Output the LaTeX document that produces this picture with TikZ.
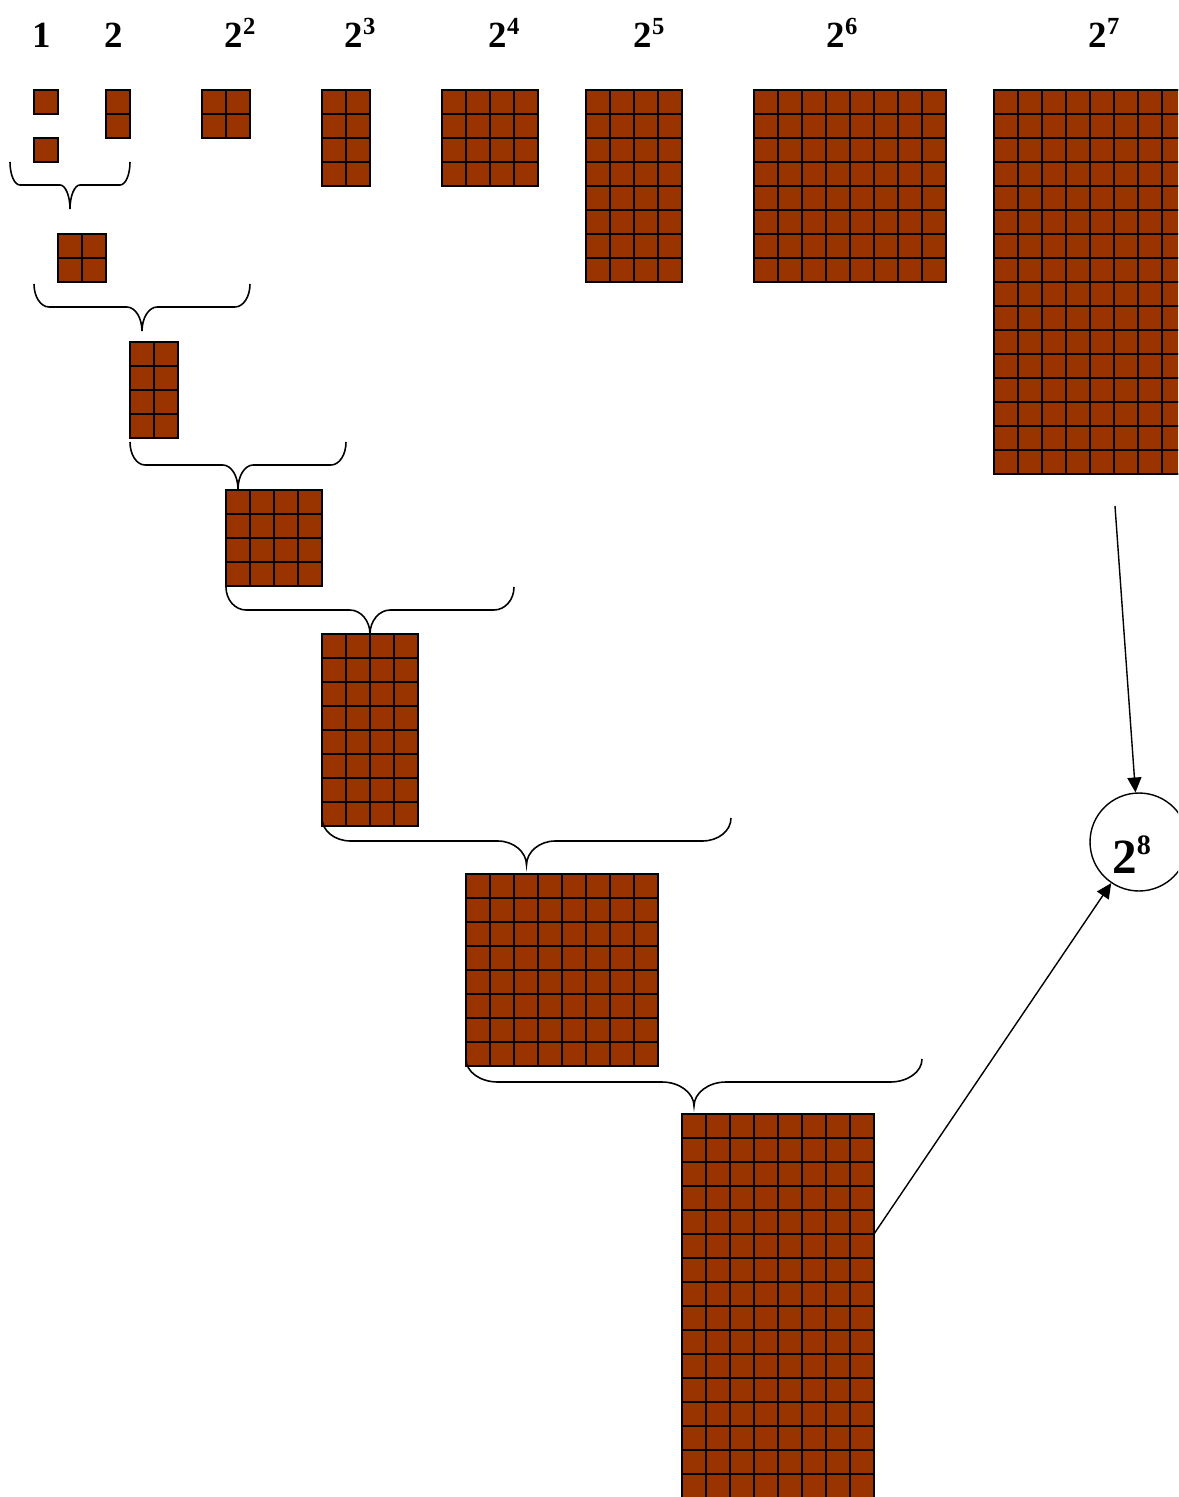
\documentclass[tikz,border=0pt]{standalone}
\usepackage{fontspec}
\setmainfont{Liberation Serif}
\usetikzlibrary{positioning,calc,arrows.meta}
\definecolor{choc}{HTML}{993300}

\newcommand{\cellsz}{0.48cm}
% block of cells: name, x, y, columns, rows
\newcommand{\choco}[5]{%
  \node[slab, minimum width=#4*\cellsz, minimum height=#5*\cellsz] (#1) at (#2,#3) {};
  \draw[cellgrid, shift={(#1.south west)}] (0,0) grid[step=\cellsz] (#4*\cellsz,#5*\cellsz);
}
% brace opening upwards: left x, right x, top y
\newcommand{\brc}[3]{%
  \pgfmathsetmacro{\bmid}{(#1+#2)/2}%
  \pgfmathsetmacro{\brad}{max(10,0.07*(#2-#1))}%
  \draw[brc] (#1,#3) .. controls (#1,#3+13) and (#1+0.45*\brad,#3+23) .. (#1+\brad,#3+23)
    -- (\bmid-\brad,#3+23) .. controls (\bmid-0.45*\brad,#3+23) and (\bmid,#3+34) .. (\bmid,#3+47)
    .. controls (\bmid,#3+34) and (\bmid+0.45*\brad,#3+23) .. (\bmid+\brad,#3+23)
    -- (#2-\brad,#3+23) .. controls (#2-0.45*\brad,#3+23) and (#2,#3+13) .. (#2,#3);
}
\newcommand{\pw}[1]{2\raisebox{7.5pt}{\fontsize{14}{14}\selectfont #1}}

\begin{document}
\begin{tikzpicture}[
    x=0.02cm, y=-0.02cm,
    slab/.style={draw=black, fill=choc, line width=1.1pt, anchor=north west, inner sep=0pt, outer sep=0pt},
    cellgrid/.style={draw=black, line width=1.1pt},
    brc/.style={draw=black, line width=0.9pt},
    lbl/.style={font=\fontsize{21}{24}\selectfont\bfseries, anchor=base, inner sep=0pt},
    arr/.style={-{Triangle[length=8.5pt,width=8pt]}, line width=0.8pt},
    res/.style={draw=black, circle, line width=0.8pt, minimum size=1.96cm, inner sep=0pt,
                text height=1.24cm, text depth=0pt, font=\fontsize{28}{30}\selectfont\bfseries}
]
\useasboundingbox (0,0) rectangle (1178,1497);
\clip (0,0) rectangle (1178,1497);

\node[lbl] (t0) at (42,48) {1};
\node[lbl] (t1) at (114,48) {2};
\node[lbl] (t2) at (240,48) {\pw{2}};
\node[lbl] (t3) at (360,48) {\pw{3}};
\node[lbl] (t4) at (504,48) {\pw{4}};
\node[lbl] (t5) at (649,48) {\pw{5}};
\node[lbl] (t6) at (842,48) {\pw{6}};
\node[lbl] (t7) at (1104,48) {\pw{7}};

\choco{b0a}{34}{90}{1}{1}
\choco{b0b}{34}{138}{1}{1}
\choco{b1}{106}{90}{1}{2}
\choco{b2}{202}{90}{2}{2}
\choco{b3}{322}{90}{2}{4}
\choco{b4}{442}{90}{4}{4}
\choco{b5}{586}{90}{4}{8}
\choco{b6}{754}{90}{8}{8}
\choco{b7}{994}{90}{8}{16}

\brc{10}{130}{162}
\choco{s2}{58}{234}{2}{2}
\brc{34}{250}{284}
\choco{s3}{130}{342}{2}{4}
\brc{130}{346}{442}
\choco{s4}{226}{490}{4}{4}
\brc{226}{514}{587}
\choco{s5}{322}{634}{4}{8}
\brc{322}{731}{818}
\choco{s6}{466}{874}{8}{8}
\brc{466}{922}{1059}
\choco{s8}{682}{1114}{8}{16}

\node[res] (c8) at (1139,842) {2\raisebox{10.8pt}{\fontsize{16}{16}\selectfont 8}\kern0.3cm};

\coordinate (a7) at ($(b7.south)+(25,32)$);
\coordinate (a8) at ($(s8.north east)+(0,120)$);
\draw[arr] (a7) -- (c8);
\draw[arr] (a8) -- (c8);

\end{tikzpicture}
\end{document}
